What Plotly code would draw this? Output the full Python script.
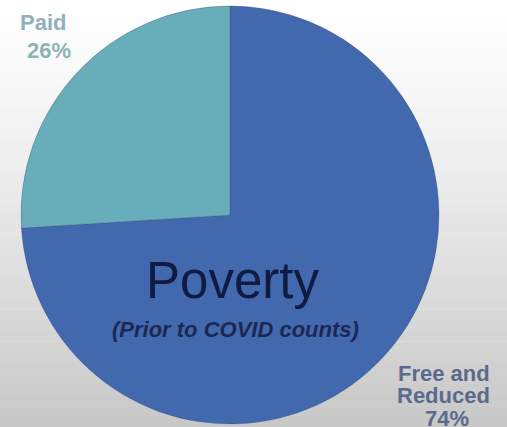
import plotly.graph_objects as go

W, H = 507, 427
labels = ["Free and Reduced", "Paid"]
values = [74, 26]
colors = ["#4268ae", "#68adba"]
title_text = "Poverty"
subtitle_text = "(Prior to COVID counts)"

fig = go.Figure()

# pie geometry (pixels)
cx, cy, r = 230, 215, 209
fig.add_trace(go.Pie(
    labels=labels, values=values, sort=False, direction="clockwise",
    rotation=0, textinfo="none", hoverinfo="label+percent",
    marker=dict(colors=colors, line=dict(color="rgba(60,80,120,0.35)", width=1)),
    domain=dict(x=[(cx - r) / W, (cx + r) / W], y=[1 - (cy + r) / H, 1 - (cy - r) / H]),
    showlegend=False,
))

# background gradient bands (white at top to light gray at bottom)
shapes = []
n = 40
for i in range(n):
    t = i / (n - 1)
    v = int(round(255 - 55 * t ** 1.2))
    shapes.append(dict(type="rect", xref="paper", yref="paper", x0=0, x1=1,
                       y0=1 - (i + 1) / n, y1=1 - i / n + 0.001,
                       fillcolor=f"rgb({v},{v},{v})", line=dict(width=0), layer="below"))

def ann(text, px, py, size, color, bold=True):
    return dict(text=f"<b>{text}</b>" if bold else text, x=px / W, y=1 - py / H,
                xref="paper", yref="paper", showarrow=False,
                xanchor="center", yanchor="middle",
                font=dict(family="Liberation Sans, Arial, sans-serif", size=size, color=color))

annotations = [
    ann("Paid", 43, 22, 22, "#8db2b9"),
    ann(f"{values[1]}%", 49, 50, 22, "#8db2b9"),
    ann("Free and", 444, 373, 22, "#5b6a8c"),
    ann("Reduced", 443, 395, 22, "#5b6a8c"),
    ann(f"{values[0]}%", 447, 418, 22, "#5b6a8c"),
    ann(title_text, 232, 280, 51, "#111b42", bold=False),
    ann(f"<i>{subtitle_text}</i>", 235, 329, 22, "#1c2853"),
]

fig.update_layout(
    width=W, height=H, margin=dict(l=0, r=0, t=0, b=0),
    paper_bgcolor="#ffffff", plot_bgcolor="rgba(0,0,0,0)",
    shapes=shapes, annotations=annotations,
)

fig.write_html("out.html", config={"displayModeBar": False},
               post_script="document.body.style.margin='0';document.body.style.padding='0';")
